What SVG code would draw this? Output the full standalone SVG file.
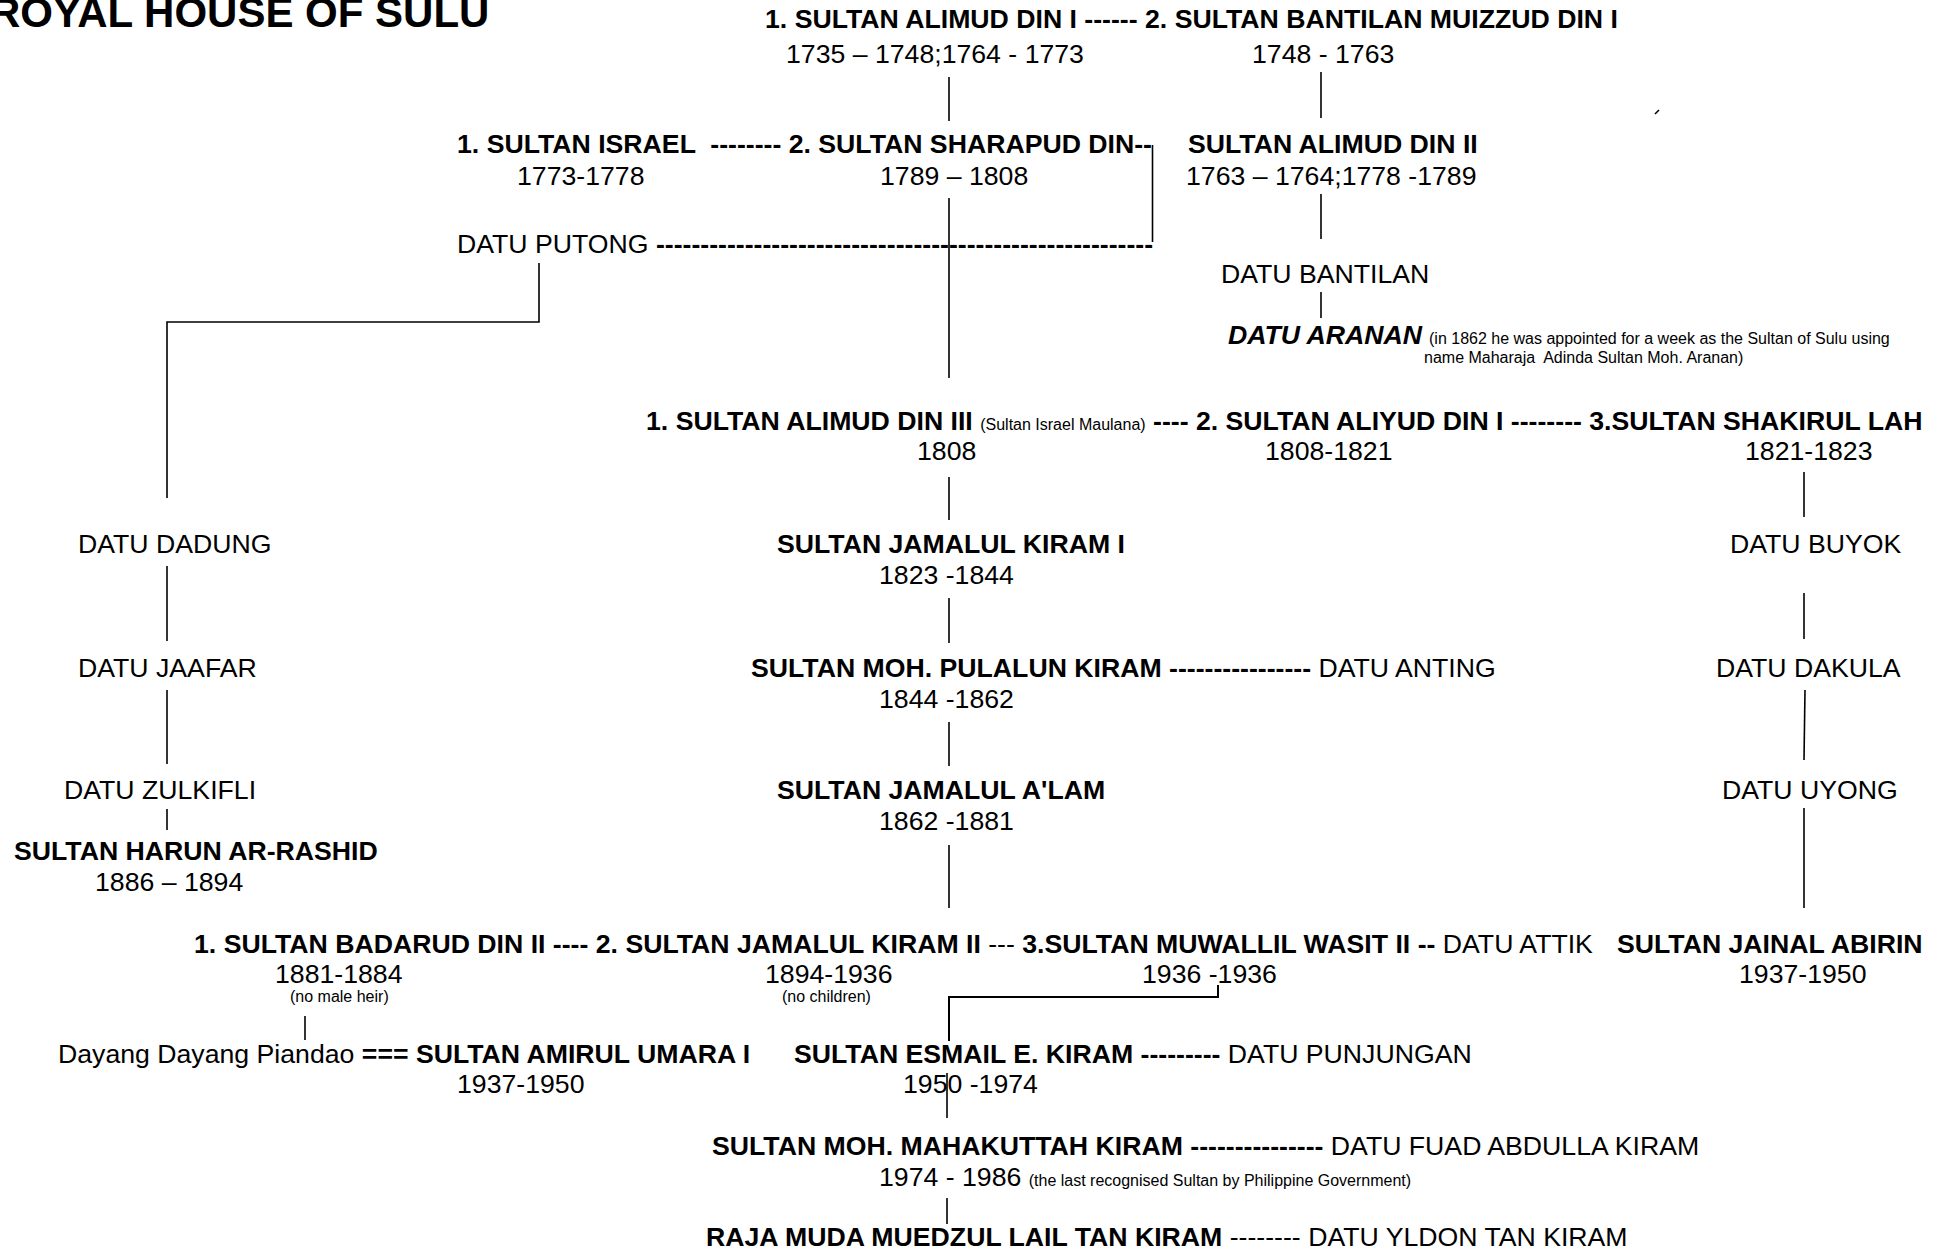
<svg xmlns="http://www.w3.org/2000/svg" width="1943" height="1251" viewBox="0 0 1943 1251">
<style>
text{font-family:"Liberation Sans",Arial,sans-serif;font-size:26.67px;fill:#000;white-space:pre}
.b{font-weight:bold}
.s{font-size:16px;font-weight:normal}
.r{font-weight:normal}
.bi{font-weight:bold;font-style:italic}
.t{font-size:42px;font-weight:bold}
#connectors line,#connectors path{stroke:#000;stroke-width:1.6;fill:none}
</style>
<rect width="1943" height="1251" fill="#fff"/>
<g id="title"><text class="t" x="-10" y="27">ROYAL HOUSE OF SULU</text></g>
<g id="connectors">
<line x1="949" y1="77" x2="949" y2="121"/>
<line x1="1321" y1="72" x2="1321" y2="118"/>
<line x1="1655" y1="114" x2="1659" y2="110"/>
<line x1="1152.5" y1="145" x2="1152.5" y2="242"/>
<line x1="949" y1="198" x2="949" y2="378"/>
<line x1="1321" y1="194" x2="1321" y2="239"/>
<path d="M539 263V322H167V498"/>
<line x1="1321" y1="292" x2="1321" y2="318"/>
<line x1="949" y1="477" x2="949" y2="520"/>
<line x1="1804" y1="472" x2="1804" y2="517"/>
<line x1="167" y1="566" x2="167" y2="641"/>
<line x1="949" y1="598" x2="949" y2="643"/>
<line x1="1804" y1="593" x2="1804" y2="639"/>
<line x1="167" y1="690" x2="167" y2="764"/>
<line x1="949" y1="722" x2="949" y2="766"/>
<line x1="1805" y1="690" x2="1804" y2="760"/>
<line x1="167" y1="809" x2="167" y2="830"/>
<line x1="949" y1="845" x2="949" y2="908"/>
<line x1="1804" y1="808" x2="1804" y2="908"/>
<line x1="305" y1="1016" x2="305" y2="1040"/>
<path d="M1218 985V997H949V1041" style="stroke-width:2"/>
<line x1="947" y1="1073" x2="947" y2="1118"/>
<line x1="947" y1="1198" x2="947" y2="1224"/>
</g>
<g id="n-alimud1-bantilan">
<text class="b" x="765" y="28">1. SULTAN ALIMUD DIN I ------ 2. SULTAN BANTILAN MUIZZUD DIN I</text>
<text x="786" y="63">1735 – 1748;1764 - 1773</text>
<text x="1252" y="63">1748 - 1763</text>
</g>
<g id="n-israel-sharapud">
<text class="b" x="457" y="153">1. SULTAN ISRAEL  -------- 2. SULTAN SHARAPUD DIN--</text>
<text x="517" y="185">1773-1778</text>
<text x="880" y="185">1789 – 1808</text>
</g>
<g id="n-alimud2">
<text class="b" x="1188" y="153">SULTAN ALIMUD DIN II</text>
<text x="1186" y="185">1763 – 1764;1778 -1789</text>
</g>
<g id="n-putong">
<text x="457" y="253">DATU PUTONG <tspan class="b">--------------------------------------------------------</tspan></text>
</g>
<g id="n-bantilan-datu"><text x="1221" y="283">DATU BANTILAN</text></g>
<g id="n-aranan">
<text class="bi" x="1228" y="344">DATU ARANAN</text>
<text class="s" x="1429" y="344">(in 1862 he was appointed for a week as the Sultan of Sulu using</text>
<text class="s" x="1424" y="363">name Maharaja  Adinda Sultan Moh. Aranan)</text>
</g>
<g id="n-alimud3-aliyud-shakirul">
<text class="b" x="646" y="430">1. SULTAN ALIMUD DIN III <tspan class="s">(Sultan Israel Maulana)</tspan> ---- 2. SULTAN ALIYUD DIN I -------- 3.SULTAN SHAKIRUL LAH</text>
<text x="917" y="460">1808</text>
<text x="1265" y="460">1808-1821</text>
<text x="1745" y="460">1821-1823</text>
</g>
<g id="n-dadung"><text x="78" y="553">DATU DADUNG</text></g>
<g id="n-jamalul1">
<text class="b" x="777" y="553">SULTAN JAMALUL KIRAM I</text>
<text x="879" y="584">1823 -1844</text>
</g>
<g id="n-buyok"><text x="1730" y="553">DATU BUYOK</text></g>
<g id="n-jaafar"><text x="78" y="677">DATU JAAFAR</text></g>
<g id="n-pulalun">
<text class="b" x="751" y="677">SULTAN MOH. PULALUN KIRAM ---------------- <tspan class="r">DATU ANTING</tspan></text>
<text x="879" y="708">1844 -1862</text>
</g>
<g id="n-dakula"><text x="1716" y="677">DATU DAKULA</text></g>
<g id="n-zulkifli"><text x="64" y="799">DATU ZULKIFLI</text></g>
<g id="n-alam">
<text class="b" x="777" y="799">SULTAN JAMALUL A'LAM</text>
<text x="879" y="830">1862 -1881</text>
</g>
<g id="n-uyong"><text x="1722" y="799">DATU UYONG</text></g>
<g id="n-harun">
<text class="b" x="14" y="860">SULTAN HARUN AR-RASHID</text>
<text x="95" y="891">1886 – 1894</text>
</g>
<g id="n-badarud-jamalul2-muwallil">
<text class="b" x="194" y="953">1. SULTAN BADARUD DIN II ---- 2. SULTAN JAMALUL KIRAM II <tspan class="r">--- </tspan>3.SULTAN MUWALLIL WASIT II -- <tspan class="r">DATU ATTIK</tspan></text>
<text x="275" y="983">1881-1884</text>
<text x="765" y="983">1894-1936</text>
<text x="1142" y="983">1936 -1936</text>
<text class="s" x="290" y="1002">(no male heir)</text>
<text class="s" x="782" y="1002">(no children)</text>
</g>
<g id="n-jainal">
<text class="b" x="1617" y="953">SULTAN JAINAL ABIRIN</text>
<text x="1739" y="983">1937-1950</text>
</g>
<g id="n-amirul">
<text x="58" y="1063">Dayang Dayang Piandao <tspan class="b">=== SULTAN AMIRUL UMARA I</tspan></text>
<text x="457" y="1093">1937-1950</text>
</g>
<g id="n-esmail">
<text class="b" x="794" y="1063">SULTAN ESMAIL E. KIRAM --------- <tspan class="r">DATU PUNJUNGAN</tspan></text>
<text x="903" y="1093">1950 -1974</text>
</g>
<g id="n-mahakuttah">
<text class="b" x="712" y="1155">SULTAN MOH. MAHAKUTTAH KIRAM --------------- <tspan class="r">DATU FUAD ABDULLA KIRAM</tspan></text>
<text x="879" y="1186">1974 - 1986 <tspan class="s">(the last recognised Sultan by Philippine Government)</tspan></text>
</g>
<g id="n-muedzul">
<text class="b" x="706" y="1246">RAJA MUDA MUEDZUL LAIL TAN KIRAM <tspan class="r">-------- DATU YLDON TAN KIRAM</tspan></text>
</g>
</svg>
